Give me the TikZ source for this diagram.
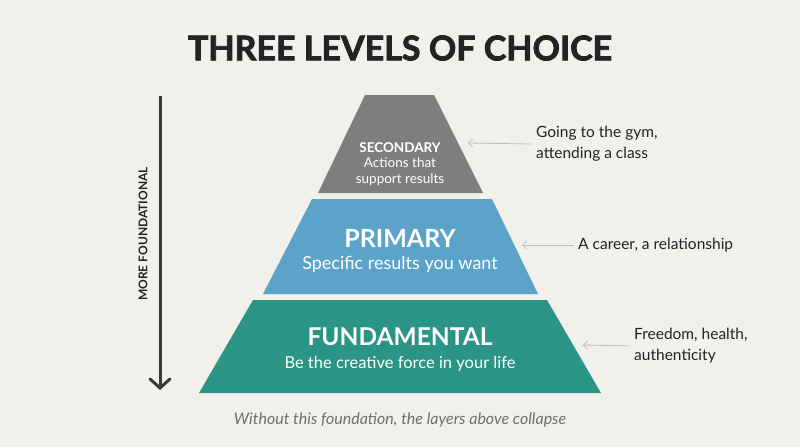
\documentclass[tikz,border=0pt]{standalone}
\usepackage{fontspec}
\setmainfont{Lato}
\usetikzlibrary{arrows.meta,positioning}
\definecolor{paper}{HTML}{F1F0EB}
\definecolor{inkdark}{HTML}{232326}
\definecolor{tiergray}{HTML}{7E7E7E}
\definecolor{tierblue}{HTML}{5BA3C9}
\definecolor{tierteal}{HTML}{2A9485}
\definecolor{notegray}{HTML}{BDBDBB}
\definecolor{capgray}{HTML}{6F6F6C}

\begin{document}
\begin{tikzpicture}[x=1pt,y=-1pt,
  tiertxt/.style={text=white,align=center,inner sep=0pt},
  side/.style={text=inkdark,align=left,anchor=west,font=\fontsize{15.5}{21}\selectfont,inner sep=4pt},
  note/.style={-{Straight Barb[length=4pt,width=8pt]},draw=notegray,line width=0.8pt},
  down/.style={-{Straight Barb[length=9pt,width=20pt,line cap=round]},draw=inkdark!90,line width=3pt}]
\fill[paper] (0,0) rectangle (800,447);
\useasboundingbox (0,0) rectangle (800,447);
\node[font=\fontsize{34}{38}\selectfont\bfseries\addfontfeatures{FakeBold=2.4},text=inkdark] (title) at (400,48) {THREE LEVELS OF CHOICE};
% pyramid
\fill[tiergray] (365,95) -- (434,95) -- (483,193) -- (318,193) -- cycle;
\fill[tierblue] (312,199) -- (492,199) -- (538,294) -- (263,294) -- cycle;
\fill[tierteal] (253,300) -- (547,300) -- (601,393) -- (199,393) -- cycle;
\node[tiertxt,font=\fontsize{13.5}{15.5}\selectfont] (sec) at (400,164) {{\bfseries SECONDARY}\\Actions that\\support results};
\node[tiertxt,font=\fontsize{25}{28}\selectfont\bfseries] (pri) at (400,238) {PRIMARY};
\node[tiertxt,font=\fontsize{18}{21}\selectfont,below=9pt of pri] (prisub) {Specific results you want};
\node[tiertxt,font=\fontsize{24.5}{28}\selectfont\bfseries] (fun) at (400,337) {FUNDAMENTAL};
\node[tiertxt,font=\fontsize{16.5}{19}\selectfont,below=10pt of fun] (funsub) {Be the creative force in your life};
% examples
\coordinate (secR) at (468,143);
\coordinate (priR) at (522,245);
\coordinate (funR) at (583,345);
\node[side] (gym) at (532,144) {Going to the gym,\\attending a class};
\node[side] (career) at (574,245) {A career, a relationship};
\node[side] (free) at (630,346) {Freedom, health,\\authenticity};
\draw[note] (gym.west) -- (secR);
\draw[note] (career.west) -- (priR);
\draw[note] (free.west) -- (funR);
% depth arrow
\coordinate (topA) at (160,96);
\coordinate (botA) at (160,390);
\draw[down] (topA) -- (botA);
\node[rotate=90,font=\fontsize{12}{14}\selectfont\bfseries,text=inkdark] (more) at (143,234) {MORE FOUNDATIONAL};
\node[font=\fontsize{16}{19}\selectfont\itshape,text=capgray] (caption) at (400,420) {Without this foundation, the layers above collapse};
\end{tikzpicture}
\end{document}
